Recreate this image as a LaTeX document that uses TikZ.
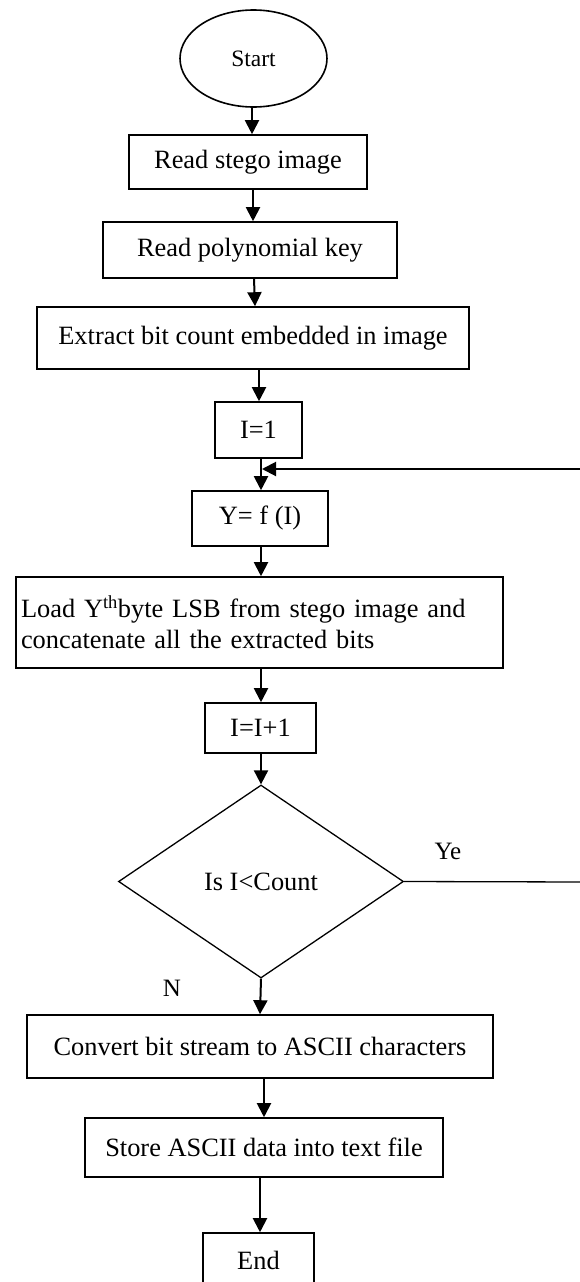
\documentclass[tikz,border=0pt]{standalone}
\usepackage{fontspec}
\setmainfont{Liberation Serif}
\usetikzlibrary{shapes.geometric,arrows.meta}
\begin{document}
\begin{tikzpicture}[x=1pt,y=-1pt,
  box/.style={draw,line width=1.6pt,rectangle,inner sep=0pt,font=\fontsize{26.4}{31}\selectfont},
  arr/.style={line width=2pt,-{Triangle[length=14pt,width=14pt]}},
  lbl/.style={inner sep=0pt,font=\fontsize{25}{29}\selectfont}]
\useasboundingbox (0,0) rectangle (580,1282);
\node[draw,ellipse,line width=1.6pt,minimum width=147pt,minimum height=97pt,inner sep=0pt,font=\fontsize{23.5}{27}\selectfont] (start) at (253.5,58.5) {Start};
\node[box,minimum width=238pt,minimum height=54pt] (stego) at (248,162) {Read stego image};
\node[box,minimum width=294pt,minimum height=56pt] (poly) at (250,250) {Read polynomial key};
\node[box,minimum width=432pt,minimum height=62pt] (extract) at (253,338) {Extract bit count embedded in image};
\node[box,minimum width=87pt,minimum height=56pt] (i1) at (258.5,430) {I=1};
\node[box,minimum width=136pt,minimum height=55pt] (yf) at (260,518.5) {Y= f (I)};
\node[box,minimum width=487pt,minimum height=91pt,align=left,text width=477pt] (load) at (259.5,622.5) {Load Y\textsuperscript{th}byte LSB from stego image and\\concatenate all the extracted bits};
\node[box,minimum width=111pt,minimum height=50pt] (inc) at (260.5,728) {I=I+1};
\node[draw,diamond,line width=1.3pt,aspect=1.477,minimum width=285pt,minimum height=193pt,inner sep=0pt,font=\fontsize{26.4}{31}\selectfont] (dec) at (261,881.5) {Is I<Count};
\node[box,minimum width=466pt,minimum height=63pt] (conv) at (260,1046.5) {Convert bit stream to ASCII characters};
\node[box,minimum width=358pt,minimum height=59pt] (store) at (264,1147.5) {Store ASCII data into text file};
\node[box,minimum width=111pt,minimum height=54pt] (end) at (258.5,1260) {End};
\node[lbl] (ye) at (448,851) {Ye};
\node[lbl] (no) at (172,988) {N};
\coordinate (r1) at (586,882);
\coordinate (r2) at (586,469);
\coordinate (j) at (262,469);
\foreach \v in {252,253,254,255,259,260,261,264} {\coordinate (x\v) at (\v,0);}
\draw[arr] (start.south -| x252) -- (stego.north -| x252);
\draw[arr] (stego.south -| x253) -- (poly.north -| x253);
\draw[arr] (poly.south -| x254) -- (extract.north -| x255);
\draw[arr] (extract.south -| x259) -- (i1.north -| x259);
\draw[arr] (i1.south -| x261) -- (yf.north -| x261);
\draw[arr] (yf.south -| x261) -- (load.north -| x261);
\draw[arr] (load.south -| x261) -- (inc.north -| x261);
\draw[arr] (inc.south -| x261) -- (dec.north);
\draw[arr] (dec.south) -- (conv.north -| x260);
\draw[arr] (conv.south -| x264) -- (store.north -| x264);
\draw[arr] (store.south -| x260) -- (end.north -| x260);
\draw[line width=1.3pt] (dec.east) -- (r1) -- (r2);
\draw[arr] (r2) -- (j);
\end{tikzpicture}
\end{document}
